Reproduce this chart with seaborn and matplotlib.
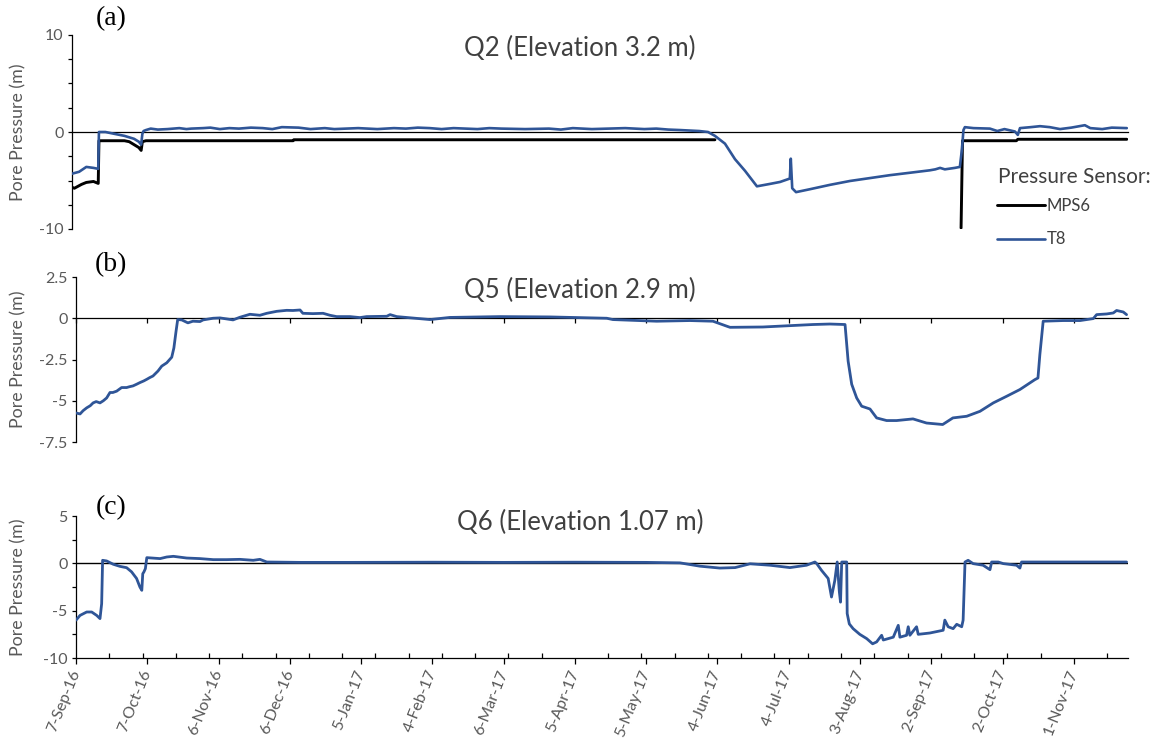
import numpy as np
import pandas as pd
import matplotlib
matplotlib.use("Agg")
import matplotlib.pyplot as plt
import matplotlib.dates as mdates
from matplotlib.lines import Line2D
from matplotlib.ticker import FixedLocator, FuncFormatter, MultipleLocator
import seaborn as sns

# ---------------------------------------------------------------------------
# Pore-pressure records (days after 7-Sep-2016, pressure head in m)
# ---------------------------------------------------------------------------
START = pd.Timestamp("2016-09-07")

# Q2, vibrating-wire sensor T8
q2_t8_day = [0, 3, 6, 9, 11, 11.3, 14, 18, 22, 26, 28, 29, 29.5, 30, 31, 33, 36, 40,
             45, 48, 50, 55, 58, 62, 66, 70, 75, 80, 84, 88, 95, 100, 106, 110, 115,
             120, 128, 135, 140, 145, 150, 155, 160, 170, 175, 180, 190, 200, 205,
             210, 218, 225, 232, 240, 245, 250, 255, 259, 263, 266.7, 269.6, 273.8,
             278, 282.2, 287.2, 292.7, 296.9, 301, 301.4, 302, 303.6, 309.4, 317.8,
             326.2, 334.6, 343, 351.4, 359.7, 362, 364, 366, 370.2, 372.3, 373.2,
             373.8, 374.4, 378, 384.9, 388, 391, 395.4, 396.6, 397.5, 402, 405.9,
             410, 414.3, 419, 424.7, 427, 432, 436, 442.3]
q2_t8_val = [-4.3, -4.1, -3.6, -3.7, -3.8, 0.0, 0.0, -0.2, -0.4, -0.7, -1.0, -1.3,
             -0.2, 0.1, 0.2, 0.35, 0.25, 0.3, 0.4, 0.3, 0.35, 0.4, 0.45, 0.3, 0.4,
             0.35, 0.45, 0.4, 0.3, 0.5, 0.45, 0.3, 0.4, 0.3, 0.35, 0.4, 0.3, 0.4,
             0.35, 0.45, 0.4, 0.3, 0.4, 0.3, 0.4, 0.35, 0.3, 0.35, 0.25, 0.4, 0.3,
             0.35, 0.4, 0.3, 0.35, 0.25, 0.2, 0.15, 0.1, 0.0, -0.4, -1.2, -2.8,
             -4.0, -5.6, -5.35, -5.15, -4.8, -2.75, -5.8, -6.2, -5.9, -5.45, -5.05,
             -4.75, -4.45, -4.2, -3.95, -3.85, -3.7, -3.85, -3.7, -3.6, -1.7, 0.2,
             0.5, 0.4, 0.35, 0.1, 0.3, 0.05, -0.3, 0.4, 0.5, 0.6, 0.5, 0.3, 0.45,
             0.7, 0.4, 0.3, 0.45, 0.4]

# Q2, sensor MPS6 (NaN = no record)
q2_mps6_day = [0, 1, 4, 6, 9, 11, 11.3, 22, 24, 26, 28, 29, 29.5, 31, 92.7, 93,
               269.6, 270, 372.8, 373.4, 396, 396.6, 442.3]
q2_mps6_val = [-5.7, -5.8, -5.4, -5.2, -5.1, -5.3, -0.9, -0.9, -1.0, -1.3, -1.6,
               -1.9, -1.0, -0.9, -0.9, -0.8, -0.8, np.nan, -9.9, -0.9, -0.9,
               -0.75, -0.75]

# Q5, sensor T8
q5_t8_day = [0, 1.7, 3, 4.5, 6, 7.2, 8.5, 10.1, 11.5, 12.9, 14.3, 15.5, 17.1, 19.2,
             21.3, 22.5, 24, 25.5, 26.9, 28.5, 29.8, 31, 32.4, 34.5, 36.1, 38.2,
             40.3, 41.2, 42.1, 42.8, 44.5, 47.1, 49.2, 52.2, 53.5, 57.7, 60.6, 66.1,
             69, 73.2, 77.4, 80.3, 84.5, 88.7, 91.3, 94.3, 95.5, 99.7, 104, 106.9,
             109.7, 115.3, 119.5, 122.3, 130.8, 132.2, 135, 149, 157.4, 178.5,
             199.5, 223.4, 226, 244.4, 258.4, 268.1, 273.9, 275.3, 289.1, 310.2,
             317.3, 323.7, 325, 326.5, 328.6, 330.7, 334.2, 337, 341.2, 345.4,
             352.3, 358, 364.8, 369.1, 374.9, 380.5, 386.1, 391.7, 397.3, 403.6,
             404.9, 405.7, 407.1, 415.5, 422.6, 428.2, 429.6, 433.8, 436.6, 438,
             440.8, 442.2]
q5_t8_val = [-5.74, -5.8, -5.6, -5.43, -5.3, -5.13, -5.05, -5.13, -5.0, -4.83, -4.5,
             -4.5, -4.42, -4.2, -4.2, -4.15, -4.1, -4.0, -3.9, -3.8, -3.7, -3.6,
             -3.5, -3.2, -2.9, -2.7, -2.36, -1.8, -0.8, -0.08, -0.1, -0.28, -0.18,
             -0.2, -0.1, 0.0, 0.02, -0.1, 0.06, 0.24, 0.18, 0.3, 0.42, 0.48, 0.47,
             0.5, 0.3, 0.28, 0.3, 0.18, 0.1, 0.1, 0.04, 0.1, 0.12, 0.22, 0.1, -0.08,
             0.05, 0.1, 0.08, 0.0, -0.08, -0.18, -0.14, -0.18, -0.48, -0.55, -0.53,
             -0.38, -0.35, -0.38, -2.6, -4.0, -4.83, -5.33, -5.5, -6.04, -6.2, -6.2,
             -6.1, -6.35, -6.44, -6.04, -5.94, -5.64, -5.13, -4.73, -4.32, -3.72,
             -3.62, -2.2, -0.18, -0.14, -0.14, -0.02, 0.22, 0.26, 0.32, 0.47, 0.38,
             0.22]

# Q6, sensor T8
q6_t8_day = [0, 1.7, 4.5, 6.6, 8.7, 10.1, 10.8, 11.2, 12.9, 15.7, 18.5, 21.3, 23.4,
             25.5, 26.9, 27.7, 28.1, 28.6, 29.2, 29.8, 35.4, 38.2, 41, 46.6, 52.2,
             57.8, 63.4, 69, 74.6, 77.4, 80.3, 94.3, 115.3, 150, 180, 210, 240,
             254.2, 262.6, 271, 277.4, 283.7, 292.1, 300.5, 307.5, 311, 311.7, 313.8,
             316.6, 318, 319.4, 320.4, 321.3, 321.8, 322.3, 324.4, 324.6, 325.5,
             327.1, 329.9, 332.8, 335.3, 337, 339.1, 339.8, 344, 346.1, 346.8, 349.6,
             350.3, 351, 353.8, 354.5, 359.4, 365, 365.7, 367.1, 369.2, 370.7, 372.8,
             373.4, 374.2, 375.5, 377.6, 381.8, 384.7, 385.4, 388.2, 390.3, 395.9,
             397.3, 398, 442.2]
q6_t8_val = [-6.0, -5.5, -5.14, -5.14, -5.5, -5.84, -4.26, 0.32, 0.25, -0.1, -0.32,
             -0.46, -0.9, -1.6, -2.5, -2.85, -1.1, -0.9, -0.56, 0.6, 0.5, 0.67, 0.74,
             0.56, 0.5, 0.39, 0.39, 0.42, 0.32, 0.42, 0.14, 0.1, 0.1, 0.12, 0.1,
             0.12, 0.1, 0.05, -0.3, -0.5, -0.45, -0.05, -0.2, -0.45, -0.2, 0.14, 0.0,
             -0.74, -1.6, -3.56, -1.8, 0.14, -3.0, -4.1, 0.14, 0.14, -5.3, -6.4,
             -6.9, -7.5, -7.95, -8.5, -8.3, -7.6, -8.1, -7.8, -6.55, -7.8, -7.6,
             -6.7, -7.6, -6.7, -7.5, -7.36, -7.07, -6.0, -6.7, -6.9, -6.44, -6.7,
             -6.0, 0.14, 0.32, -0.03, -0.2, -0.67, 0.14, 0.14, -0.03, -0.2, -0.5,
             0.14, 0.14]

# Date axis
tick_days = [0, 30, 60, 90, 120, 150, 180, 210, 240, 270, 300, 330, 360, 390, 420]
tick_labels = ["7-Sep-16", "7-Oct-16", "6-Nov-16", "6-Dec-16", "5-Jan-17",
               "4-Feb-17", "6-Mar-17", "5-Apr-17", "5-May-17", "4-Jun-17",
               "4-Jul-17", "3-Aug-17", "2-Sep-17", "2-Oct-17", "1-Nov-17"]
minor_step_days = 14
x_end_day = 442.8

BLUE = "#2F5597"
GREY_TXT = "#595959"
DARK_TXT = "#404040"


def to_dates(days):
    return START + pd.to_timedelta(np.asarray(days, dtype=float), unit="D")


def frame(days, vals):
    return pd.DataFrame({"date": to_dates(days), "p": np.asarray(vals, dtype=float)})


# ---------------------------------------------------------------------------
sns.set_theme(style="ticks")
plt.rcParams["font.family"] = ["Lato", "DejaVu Sans"]
plt.rcParams["axes.unicode_minus"] = False

W, H = 1157, 740
fig = plt.figure(figsize=(W / 100, H / 100), dpi=100)


def rect(l, t, r, b):
    return [l / W, 1 - b / H, (r - l) / W, (b - t) / H]


ax_a = fig.add_axes(rect(72, 35, 1128, 229))
ax_b = fig.add_axes(rect(76, 277, 1128, 442))
ax_c = fig.add_axes(rect(76, 516, 1128, 658))

line_kw = dict(estimator=None, sort=False, legend=False, zorder=3)

# (a) Q2: MPS6 drawn piecewise so the data gap stays open
mps6 = frame(q2_mps6_day, q2_mps6_val)
valid = mps6["p"].notna()
seg_id = (~valid).cumsum()
for _, seg in mps6[valid].groupby(seg_id[valid]):
    sns.lineplot(data=seg, x="date", y="p", ax=ax_a, color="black", lw=2.1, **line_kw)
sns.lineplot(data=frame(q2_t8_day, q2_t8_val), x="date", y="p", ax=ax_a,
             color=BLUE, lw=1.9, **line_kw)

# (b) Q5
sns.lineplot(data=frame(q5_t8_day, q5_t8_val), x="date", y="p", ax=ax_b,
             color=BLUE, lw=2.0, **line_kw)

# (c) Q6
ax_c.axhline(0, color="black", lw=1.0, zorder=1.5)
sns.lineplot(data=frame(q6_t8_day, q6_t8_val), x="date", y="p", ax=ax_c,
             color=BLUE, lw=2.0, **line_kw)

fmt = FuncFormatter(lambda v, _: f"{v:g}")
x_lo, x_hi = to_dates([0, x_end_day])
major_pos = mdates.date2num(to_dates(tick_days))
minor_pos = mdates.date2num(to_dates(np.arange(0, x_end_day, minor_step_days)))

for ax, (ylo, yhi), majors in [
    (ax_a, (-10, 10), [-10, 0, 10]),
    (ax_b, (-7.5, 2.5), [-7.5, -5, -2.5, 0, 2.5]),
    (ax_c, (-10, 5), [-10, -5, 0, 5]),
]:
    ax.set_xlim(x_lo, x_hi)
    ax.set_ylim(ylo, yhi)
    ax.set_xlabel("")
    ax.set_ylabel("")
    ax.yaxis.set_major_locator(FixedLocator(majors))
    ax.yaxis.set_major_formatter(fmt)
    for side in ("top", "right"):
        ax.spines[side].set_visible(False)
    for side in ("left", "bottom"):
        ax.spines[side].set_color("black")
        ax.spines[side].set_linewidth(0.9)
    ax.tick_params(axis="y", which="both", direction="out", length=3, width=0.9,
                   color="black", labelsize=11.5, labelcolor=GREY_TXT, pad=3)
    ax.set_facecolor("none")

ax_a.yaxis.set_minor_locator(MultipleLocator(2.5))
ax_c.yaxis.set_minor_locator(MultipleLocator(2.5))

# horizontal axes crossing at zero for (a) and (b)
for ax in (ax_a, ax_b):
    ax.spines["bottom"].set_position(("data", 0))
    ax.spines["bottom"].set_zorder(2)
ax_a.tick_params(axis="x", which="both", length=0, labelbottom=False)
ax_b.xaxis.set_major_locator(FixedLocator(major_pos))
ax_b.tick_params(axis="x", which="major", direction="out", length=3.5, width=0.9,
                 color="black", labelbottom=False)
ax_b.tick_params(axis="x", which="minor", length=0)

ax_c.xaxis.set_major_locator(FixedLocator(major_pos))
ax_c.xaxis.set_minor_locator(FixedLocator(minor_pos))
ax_c.set_xticklabels(tick_labels, rotation=68, ha="right", va="center",
                     rotation_mode="anchor")
ax_c.tick_params(axis="x", which="major", direction="out", length=4, width=0.9,
                 color="black", labelsize=11.5, labelcolor=GREY_TXT, pad=5)
ax_c.tick_params(axis="x", which="minor", direction="in", length=3.5, width=0.9,
                 color="black")

# axis titles, panel titles and panel letters
for ax, title, tcy, letter, lcy in [
    (ax_a, "Q2 (Elevation 3.2 m)", 48, "(a)", 19),
    (ax_b, "Q5 (Elevation 2.9 m)", 290, "(b)", 265),
    (ax_c, "Q6 (Elevation 1.07 m)", 522, "(c)", 508),
]:
    pos = ax.get_position()
    fig.text(18 / W, (pos.y0 + pos.y1) / 2, "Pore Pressure (m)", rotation=90,
             ha="center", va="center", fontsize=12.8, color=GREY_TXT)
    fig.text(580 / W, 1 - tcy / H, title, ha="center", va="center",
             fontsize=18.5, color=DARK_TXT)
    fig.text(111 / W, 1 - lcy / H, letter, ha="center", va="center",
             fontsize=20, color="black", family="Liberation Serif")

# legend for the Q2 panel
fig.text(998 / W, 1 - 177 / H, "Pressure Sensor:", ha="left", va="center",
         fontsize=15, color=DARK_TXT)
handles = [Line2D([], [], color="black", lw=2.1), Line2D([], [], color=BLUE, lw=1.9)]
leg = fig.legend(handles, ["MPS6", "T8"], loc="upper left",
                 bbox_to_anchor=(997 / W, 1 - 198 / H),
                 frameon=False, handlelength=2.9, handletextpad=0.1,
                 labelspacing=1.05, fontsize=12,
                 borderaxespad=0, borderpad=0)
for t in leg.get_texts():
    t.set_color(DARK_TXT)

fig.savefig("out.png", dpi=100, facecolor="white")
